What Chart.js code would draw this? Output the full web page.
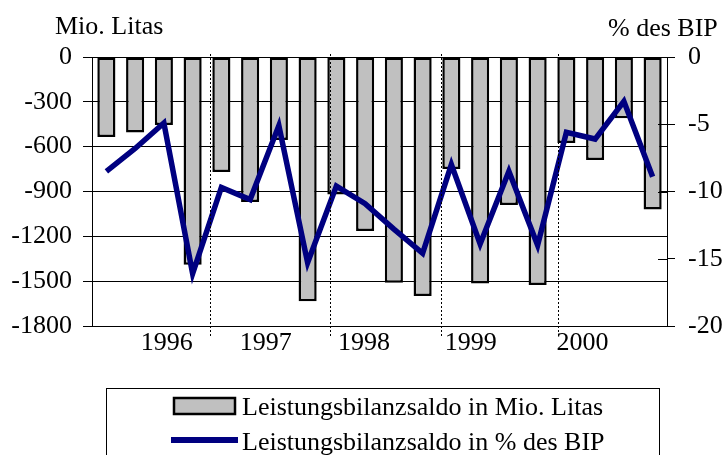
<!DOCTYPE html>
<html>

<head>
    <title>Leistungsbilanzsaldo</title>
    <script src="https://cdn.jsdelivr.net/npm/chart.js"></script>
    <style>
        body {
            margin: 0;
            background: #ffffff;
        }
        
        #wrap {
            position: relative;
            width: 722px;
            height: 455px;
        }
    </style>
</head>

<body>
    <div id="wrap">
        <canvas id="bopChart" width="722" height="455"></canvas>
    </div>

    <script>
        // Quartale 1996 - 2000
        const quarters = [
            '1996 Q1', '1996 Q2', '1996 Q3', '1996 Q4',
            '1997 Q1', '1997 Q2', '1997 Q3', '1997 Q4',
            '1998 Q1', '1998 Q2', '1998 Q3', '1998 Q4',
            '1999 Q1', '1999 Q2', '1999 Q3', '1999 Q4',
            '2000 Q1', '2000 Q2', '2000 Q3', '2000 Q4'
        ];
        // Leistungsbilanzsaldo in Mio. Litas
        const saldoLitas = [-535, -505, -455, -1390, -770, -970, -555, -1635, -920, -1165,
            -1510, -1600, -750, -1515, -990, -1525, -575, -690, -410, -1020
        ];
        // Leistungsbilanzsaldo in % des BIP
        const saldoBip = [-8.5, -6.8, -4.9, -16.1, -9.7, -10.6, -5.1, -15.3, -9.6, -10.9,
            -12.8, -14.6, -8.0, -13.9, -8.5, -14.0, -5.6, -6.1, -3.3, -8.9
        ];
        const leftTicks = [0, -300, -600, -900, -1200, -1500, -1800];
        const rightTicks = [0, -5, -10, -15, -20];
        const years = ['1996', '1997', '1998', '1999', '2000'];
        // where the year labels and the dotted year separators sit (category index units)
        const yearAt = [2.1, 5.54, 8.96, 12.67, 16.56];
        const separatorAt = [3.61, 7.79, 11.64, 15.7];

        const FAMILY = '"Liberation Serif", "Times New Roman", serif';
        const FONT = '26px ' + FAMILY;

        const extras = {
            id: 'extras',
            afterDatasetsDraw(chart) {
                const ctx = chart.ctx;
                const x = chart.scales.x;
                const yR = chart.scales.y1;
                const area = chart.chartArea;
                ctx.save();

                // cross ticks on the right axis (inner half)
                ctx.strokeStyle = '#000';
                ctx.lineWidth = 1;
                rightTicks.forEach(v => {
                    const py = Math.round(yR.getPixelForValue(v)) + 0.5;
                    ctx.beginPath();
                    ctx.moveTo(area.right - 9, py);
                    ctx.lineTo(area.right, py);
                    ctx.stroke();
                });

                // dotted year separators
                ctx.setLineDash([2, 2]);
                separatorAt.forEach(v => {
                    const px = Math.round(x.getPixelForValue(v)) + 0.5;
                    ctx.beginPath();
                    ctx.moveTo(px, area.top - 3);
                    ctx.lineTo(px, area.bottom + 11);
                    ctx.stroke();
                });
                ctx.setLineDash([]);

                // year labels
                ctx.fillStyle = '#000';
                ctx.font = FONT;
                ctx.textAlign = 'center';
                ctx.textBaseline = 'alphabetic';
                years.forEach((t, i) => {
                    ctx.fillText(t, x.getPixelForValue(yearAt[i]), area.bottom + 24);
                });

                // axis titles
                ctx.textAlign = 'left';
                ctx.fillText('Mio. Litas', 55, 34);
                ctx.fillText('% des BIP', 608, 36);

                // legend
                ctx.strokeStyle = '#000';
                ctx.lineWidth = 1;
                ctx.strokeRect(106.5, 388.5, 553, 80);
                const ds = chart.data.datasets;
                ctx.fillStyle = ds[1].backgroundColor;
                ctx.fillRect(174, 398, 61, 16);
                ctx.lineWidth = 2.5;
                ctx.strokeRect(174, 398, 61, 16);
                ctx.fillStyle = ds[0].borderColor;
                ctx.fillRect(171, 437, 67, 6);
                ctx.fillStyle = '#000';
                ctx.fillText(ds[1].label, 242, 415);
                ctx.fillText(ds[0].label, 242, 450);

                ctx.restore();
            }
        };

        const ctx = document.getElementById('bopChart').getContext('2d');
        const bopChart = new Chart(ctx, {
            data: {
                labels: quarters,
                datasets: [{
                    type: 'line',
                    label: 'Leistungsbilanzsaldo in % des BIP',
                    data: saldoBip,
                    yAxisID: 'y1',
                    borderColor: '#000080',
                    borderWidth: 5.5,
                    pointRadius: 0,
                    tension: 0,
                    order: 0
                }, {
                    type: 'bar',
                    label: 'Leistungsbilanzsaldo in Mio. Litas',
                    data: saldoLitas,
                    yAxisID: 'y',
                    backgroundColor: '#c0c0c0',
                    borderColor: '#000',
                    borderWidth: 2.5,
                    borderSkipped: false,
                    categoryPercentage: 1,
                    barPercentage: 0.63,
                    order: 1
                }]
            },
            options: {
                responsive: false,
                animation: false,
                events: [],
                layout: {
                    padding: {
                        top: 57,
                        bottom: 129,
                        left: 0,
                        right: 0
                    }
                },
                plugins: {
                    legend: {
                        display: false
                    },
                    tooltip: {
                        enabled: false
                    }
                },
                scales: {
                    x: {
                        offset: true,
                        grid: {
                            display: false
                        },
                        border: {
                            display: false
                        },
                        ticks: {
                            display: false
                        },
                        afterFit(s) {
                            s.height = 0;
                        }
                    },
                    y: {
                        position: 'left',
                        min: -1800,
                        max: 0,
                        afterBuildTicks(s) {
                            s.ticks = leftTicks.map(v => ({
                                value: v
                            }));
                        },
                        afterFit(s) {
                            s.width = 92;
                        },
                        grid: {
                            color: '#000',
                            lineWidth: 1,
                            tickLength: 9
                        },
                        border: {
                            color: '#000',
                            width: 1
                        },
                        ticks: {
                            color: '#000',
                            padding: 11,
                            callback: v => String(v),
                            font: {
                                family: FAMILY,
                                size: 26
                            }
                        }
                    },
                    y1: {
                        position: 'right',
                        min: -20,
                        max: 0,
                        afterBuildTicks(s) {
                            s.ticks = rightTicks.map(v => ({
                                value: v
                            }));
                        },
                        afterFit(s) {
                            s.width = 55;
                        },
                        grid: {
                            drawOnChartArea: false,
                            color: '#000',
                            lineWidth: 1,
                            tickLength: 8
                        },
                        border: {
                            color: '#000',
                            width: 1
                        },
                        ticks: {
                            color: '#000',
                            padding: 13,
                            callback: v => String(v),
                            font: {
                                family: FAMILY,
                                size: 26
                            }
                        }
                    }
                }
            },
            plugins: [extras]
        });
    </script>
</body>

</html>
